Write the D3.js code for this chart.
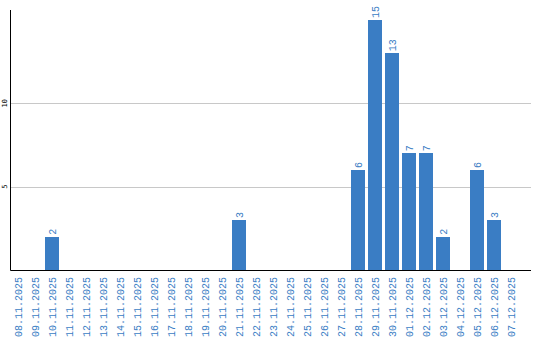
<!DOCTYPE html>
<html>
<head>
<meta charset="utf-8">
<script src="https://cdn.jsdelivr.net/npm/d3@7"></script>
<style>
  body { margin: 0; background: #fff; }
  svg { display: block; }
</style>
</head>
<body>
<script>
// chart size
var width = 540;
var height = 340;

// data
var dates = ["08.11.2025", "09.11.2025", "10.11.2025", "11.11.2025", "12.11.2025",
  "13.11.2025", "14.11.2025", "15.11.2025", "16.11.2025", "17.11.2025",
  "18.11.2025", "19.11.2025", "20.11.2025", "21.11.2025", "22.11.2025",
  "23.11.2025", "24.11.2025", "25.11.2025", "26.11.2025", "27.11.2025",
  "28.11.2025", "29.11.2025", "30.11.2025", "01.12.2025", "02.12.2025",
  "03.12.2025", "04.12.2025", "05.12.2025", "06.12.2025", "07.12.2025"];
var counts = [0, 0, 2, 0, 0, 0, 0, 0, 0, 0,
  0, 0, 0, 3, 0, 0, 0, 0, 0, 0,
  6, 15, 13, 7, 7, 2, 0, 6, 3, 0];
var yTicks = [5, 10];

var rows = dates.map(function (d, i) { return { date: d, value: counts[i] }; });

// plot box (window.top is reserved, so prefixed names)
var plotLeft = 10.5, plotTop = 10, plotBottom = 270, plotRight = 531;
var blue = "#3a7dc4";

var svg = d3.select("body").append("svg")
  .attr("width", width)
  .attr("height", height);

var x = d3.scaleBand()
  .domain(dates)
  .range([11, 518])
  .paddingInner(3 / 17)
  .paddingOuter(0);

var y = d3.scaleLinear()
  .domain([0, 15.6])
  .range([plotBottom, plotTop]);

// grid lines
svg.selectAll("line.grid")
  .data(yTicks)
  .enter()
  .append("line")
  .attr("class", "grid")
  .attr("x1", plotLeft)
  .attr("x2", plotRight)
  .attr("y1", function (d) { return Math.round(y(d)) + 0.5; })
  .attr("y2", function (d) { return Math.round(y(d)) + 0.5; })
  .attr("stroke", "#c8c8c8")
  .attr("stroke-width", 1);

// y tick labels, rotated
svg.selectAll("text.ytick")
  .data(yTicks)
  .enter()
  .append("text")
  .attr("class", "ytick")
  .attr("transform", function (d) { return "translate(7," + y(d) + ") rotate(-90)"; })
  .attr("text-anchor", "middle")
  .attr("font-family", "DejaVu Sans Mono")
  .attr("font-size", 7)
  .attr("fill", "#000")
  .text(function (d) { return d; });

// bars
svg.selectAll("rect.bar")
  .data(rows.filter(function (d) { return d.value > 0; }))
  .enter()
  .append("rect")
  .attr("class", "bar")
  .attr("x", function (d) { return x(d.date); })
  .attr("width", x.bandwidth())
  .attr("y", function (d) { return y(d.value); })
  .attr("height", function (d) { return plotBottom - y(d.value); })
  .attr("fill", blue)
  .attr("shape-rendering", "crispEdges");

// value labels on top of bars
svg.selectAll("text.val")
  .data(rows.filter(function (d) { return d.value > 0; }))
  .enter()
  .append("text")
  .attr("class", "val")
  .attr("transform", function (d) {
    return "translate(" + (x(d.date) + x.bandwidth() / 2 + 3.5) + "," + (y(d.value) - 2) + ") rotate(-90)";
  })
  .attr("text-anchor", "start")
  .attr("font-family", "Liberation Mono")
  .attr("font-size", 10)
  .attr("fill", blue)
  .text(function (d) { return d.value; });

// axis lines
svg.append("line")
  .attr("x1", plotLeft).attr("x2", plotLeft)
  .attr("y1", plotTop).attr("y2", plotBottom + 0.5)
  .attr("stroke", "#000");
svg.append("line")
  .attr("x1", plotLeft).attr("x2", plotRight)
  .attr("y1", plotBottom + 0.5).attr("y2", plotBottom + 0.5)
  .attr("stroke", "#000");

// date labels, rotated
svg.selectAll("text.date")
  .data(dates)
  .enter()
  .append("text")
  .attr("class", "date")
  .attr("transform", function (d) {
    return "translate(" + (x(d) + x.bandwidth() / 2 + 3.5) + ",277) rotate(-90)";
  })
  .attr("text-anchor", "end")
  .attr("font-family", "Liberation Mono")
  .attr("font-size", 10)
  .attr("fill", blue)
  .text(function (d) { return d; });
</script>
</body>
</html>
